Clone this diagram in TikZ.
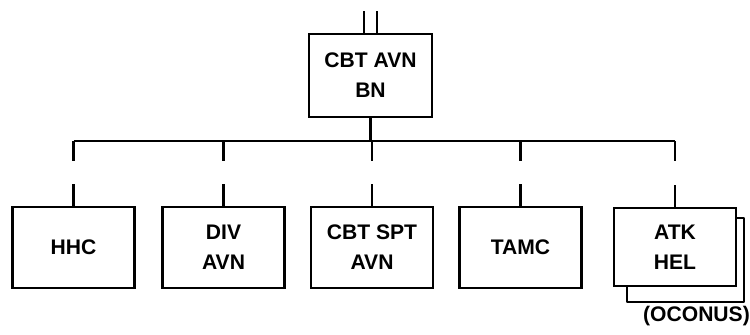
\documentclass[tikz,border=0pt]{standalone}
\usepackage{fontspec}
\setmainfont{Liberation Sans}
\usepackage{tikz}
\usetikzlibrary{positioning,calc}
\tikzset{
  unit/.style   = {draw=black, fill=white, line width=1.3pt, minimum width=2.44cm, minimum height=1.62cm,
                   align=center, font=\fontsize{12}{17}\selectfont\bfseries, inner sep=2pt},
  link/.style   = {draw=black, line width=1.3pt},
  shadowln/.style = {draw=black, line width=1.3pt, line join=round},
  note/.style   = {font=\fontsize{12}{13}\selectfont\bfseries, inner sep=0pt},
}
\begin{document}
\begin{tikzpicture}[x=1cm,y=1cm]
  \useasboundingbox (0,0) rectangle (15,6.7);

  % battalion
  \node[unit, minimum width=2.46cm, minimum height=1.66cm] (bn) at (7.41,5.19) {CBT AVN\\BN};
  \draw[link] ([xshift=-0.13cm]bn.north) -- ++(0,0.44);
  \draw[link] ([xshift=0.13cm]bn.north) -- ++(0,0.44);

  % companies
  \node[unit] (hhc)  at (1.47,1.75)  {HHC};
  \node[unit] (div)  at (4.47,1.75)  {DIV\\AVN};
  \node[unit] (spt)  at (7.44,1.75)  {CBT SPT\\AVN};
  \node[unit] (tamc) at (10.41,1.75) {TAMC};
  \node[unit, minimum height=1.56cm, anchor=north] (atk) at (13.5,2.56) {ATK\\HEL};

  % second ATK HEL (OCONUS)
  \draw[shadowln] ([yshift=-0.22cm]atk.north east) -- ++(0.14,0) |- ($(atk.south west)+(0.28,-0.3)$) -- ++(0,0.3);
  \node[note, below=0.38cm of atk.south east, anchor=north east, xshift=0.26cm] (oconus) {(OCONUS)};

  % lines
  \draw[link] (bn.south) -- ++(0,-0.46) coordinate (bus);
  \draw[link] (hhc.north |- bus) -- (atk.north |- bus);
  \foreach \u in {hhc,div,spt,tamc,atk} {
    \draw[link] (\u.north |- bus) -- ++(0,-0.4);
    \draw[link] (\u.north) -- ++(0,0.44);
  }
\end{tikzpicture}
\end{document}
